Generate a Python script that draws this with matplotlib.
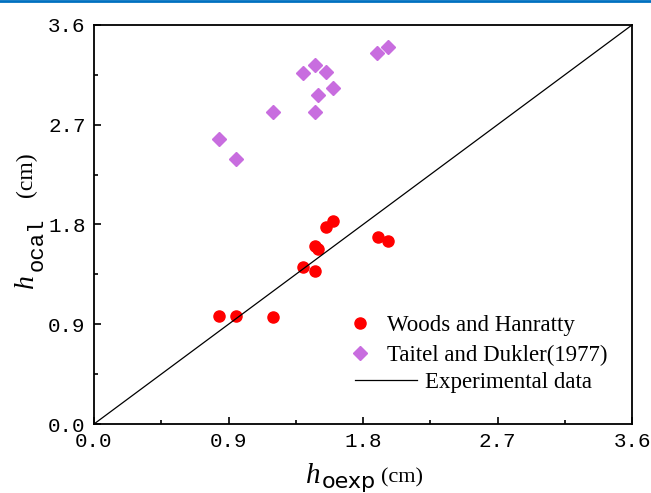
import numpy as np
import matplotlib
matplotlib.use('Agg')
import matplotlib.pyplot as plt
from matplotlib.lines import Line2D
from matplotlib.ticker import MultipleLocator

# data (cm)
woods_exp = [0.839, 0.950, 1.200, 1.401, 1.479, 1.481, 1.497, 1.555, 1.598, 1.899, 1.968]
woods_cal = [0.975, 0.975, 0.966, 1.414, 1.381, 1.609, 1.579, 1.781, 1.835, 1.690, 1.649]

taitel_exp = [1.970, 1.896, 1.477, 1.397, 1.555, 1.598, 1.497, 1.198, 1.479, 0.837, 0.948]
taitel_cal = [3.405, 3.346, 3.240, 3.171, 3.174, 3.030, 2.969, 2.813, 2.813, 2.572, 2.392]

line_x = [0.0, 3.6]
line_y = [0.0, 3.6]
ticks = [0.0, 0.9, 1.8, 2.7, 3.6]

W, H = 651, 493

fig = plt.figure(figsize=(W/100, H/100), dpi=100)
ax = fig.add_axes([94/W, 69/H, 538/W, 399/H])

h1, = ax.plot(woods_exp, woods_cal, 'o', color='#ff0000', markersize=8, label='Woods and Hanratty')
h2, = ax.plot(taitel_exp, taitel_cal, 'D', color='#c86ddf', markersize=7.5, label='Taitel and Dukler(1977)')
h3, = ax.plot(line_x, line_y, '-', color='black', lw=0.9, label='Experimental data')

ax.set_xlim(0, 3.6)
ax.set_ylim(0, 3.6)
ax.set_xticks(ticks)
ax.set_yticks(ticks)
ax.set_xticklabels(['%.1f' % t for t in ticks], family='Liberation Mono', fontsize=15)
ax.set_yticklabels(['%.1f' % t for t in ticks], family='Liberation Mono', fontsize=15)
ax.xaxis.set_minor_locator(MultipleLocator(0.45))
ax.yaxis.set_minor_locator(MultipleLocator(0.45))
ax.tick_params(which='both', direction='in', width=1.2, color='black')
ax.tick_params(which='major', length=5, pad=6)
ax.tick_params(which='minor', length=3)
for sp in ax.spines.values():
    sp.set_linewidth(1.3)

# axis titles built from pieces (italic h, subscript, unit)
fig.text(306/W, (H-483)/H, 'h', family='Liberation Serif', style='italic', fontsize=21,
         ha='left', va='baseline')
fig.text(322/W, (H-488)/H, 'oexp', family='DejaVu Sans', fontsize=16, ha='left', va='baseline')
fig.text(381/W, (H-482)/H, '(cm)', family='Liberation Serif', fontsize=16, ha='left', va='baseline')

fig.text(33/W, (H-288)/H, 'h', family='Liberation Serif', style='italic', fontsize=20,
         rotation=90, rotation_mode='anchor', ha='left', va='baseline')
fig.text(43/W, (H-271)/H, 'ocal', family='Liberation Mono', fontsize=16,
         rotation=90, rotation_mode='anchor', ha='left', va='baseline')
fig.text(32/W, (H-197)/H, '(cm)', family='Liberation Serif', fontsize=17,
         rotation=90, rotation_mode='anchor', ha='left', va='baseline')

lprop = {'family': 'Liberation Serif', 'size': 16.5}
leg1 = ax.legend(handles=[h1, h2], loc='upper left', bbox_to_anchor=(0.473, 0.2725),
                 frameon=False, prop=lprop, borderpad=0, borderaxespad=0,
                 handlelength=1.0, handletextpad=0.67, labelspacing=0.39)
ax.add_artist(leg1)
ax.legend(handles=[h3], loc='upper left', bbox_to_anchor=(0.485, 0.1295),
          frameon=False, prop=lprop, borderpad=0, borderaxespad=0,
          handlelength=2.7, handletextpad=0.35)

# blue rule along the top of the figure
fig.add_artist(Line2D([0, 1], [0.997, 0.997], color='#0070c0', lw=2, transform=fig.transFigure))

fig.savefig('out.png', dpi=100)
